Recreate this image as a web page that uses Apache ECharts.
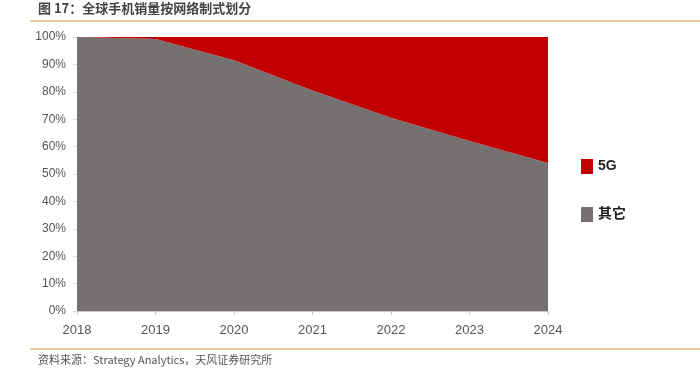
<!DOCTYPE html>
<html>
<head>
<meta charset="utf-8">
<script src="https://cdn.jsdelivr.net/npm/echarts@6/dist/echarts.min.js"></script>
<style>html,body{margin:0;padding:0;background:#fff;}#c{width:700px;height:374px;}</style>
</head>
<body>
<div id="c"></div>
<script>
const categories = ['2018', '2019', '2020', '2021', '2022', '2023', '2024'];
const otherValues = [100, 99.3, 91.5, 80.5, 70.5, 62, 54];
const fiveGValues = [0, 0.7, 8.5, 19.5, 29.5, 38, 46];
const seriesNames = ['5G', '其它'];
const titleText = '图 17：全球手机销量按网络制式划分';
const sourceText = '资料来源：Strategy Analytics，天风证券研究所';

const chart = echarts.init(document.getElementById('c'));
const narrow = "'Liberation Sans Narrow','Arial Narrow','Liberation Sans',sans-serif";
chart.setOption({
  animation: false,
  grid: { left: 77, right: 152, top: 37, bottom: 63 },
  legend: {
    orient: 'vertical',
    left: 576, top: 154,
    itemWidth: 12, itemHeight: 15, itemGap: 33,
    icon: 'rect',
    data: seriesNames,
    textStyle: { fontSize: 14, fontWeight: 'bold', color: '#222', fontFamily: "'Liberation Sans','Noto Sans CJK SC',sans-serif" }
  },
  xAxis: {
    type: 'category', boundaryGap: false, data: categories,
    axisLine: { lineStyle: { color: '#c8c8c8' } },
    axisTick: { show: true, alignWithLabel: true, length: 4, lineStyle: { color: '#c8c8c8' } },
    axisLabel: { color: '#555', fontSize: 13, fontFamily: narrow, margin: 13 }
  },
  yAxis: {
    type: 'value', min: 0, max: 100, interval: 10,
    axisLine: { show: true, lineStyle: { color: '#dedede' } },
    axisTick: { show: true, length: 4, lineStyle: { color: '#dedede' } },
    splitLine: { show: false },
    axisLabel: { formatter: '{value}%', color: '#555', fontSize: 12, fontFamily: narrow, margin: 11 }
  },
  series: [
    {
      name: '其它', type: 'line', stack: 'total', data: otherValues,
      symbol: 'none', lineStyle: { width: 0 }, itemStyle: { color: '#767171' },
      areaStyle: { color: '#767171', opacity: 1 }
    },
    {
      name: '5G', type: 'line', stack: 'total', data: fiveGValues,
      symbol: 'none', lineStyle: { width: 0 }, itemStyle: { color: '#C00000' },
      areaStyle: { color: '#C00000', opacity: 1 }
    }
  ],
  graphic: [
    { type: 'text', left: 38, top: 2, style: { text: titleText, fontSize: 13, fontWeight: 'bold', fill: '#444', fontFamily: "'Noto Sans CJK SC',sans-serif" } },
    { type: 'line', shape: { x1: 30, y1: 21, x2: 700, y2: 21 }, style: { stroke: '#E8923E', lineWidth: 1 } },
    { type: 'line', shape: { x1: 30, y1: 349, x2: 700, y2: 349 }, style: { stroke: '#E8923E', lineWidth: 1 } },
    { type: 'text', left: 38, top: 354, style: { text: sourceText, fontSize: 11, fill: '#555', fontFamily: "'Noto Sans CJK SC',sans-serif" } }
  ]
});
</script>
</body>
</html>
